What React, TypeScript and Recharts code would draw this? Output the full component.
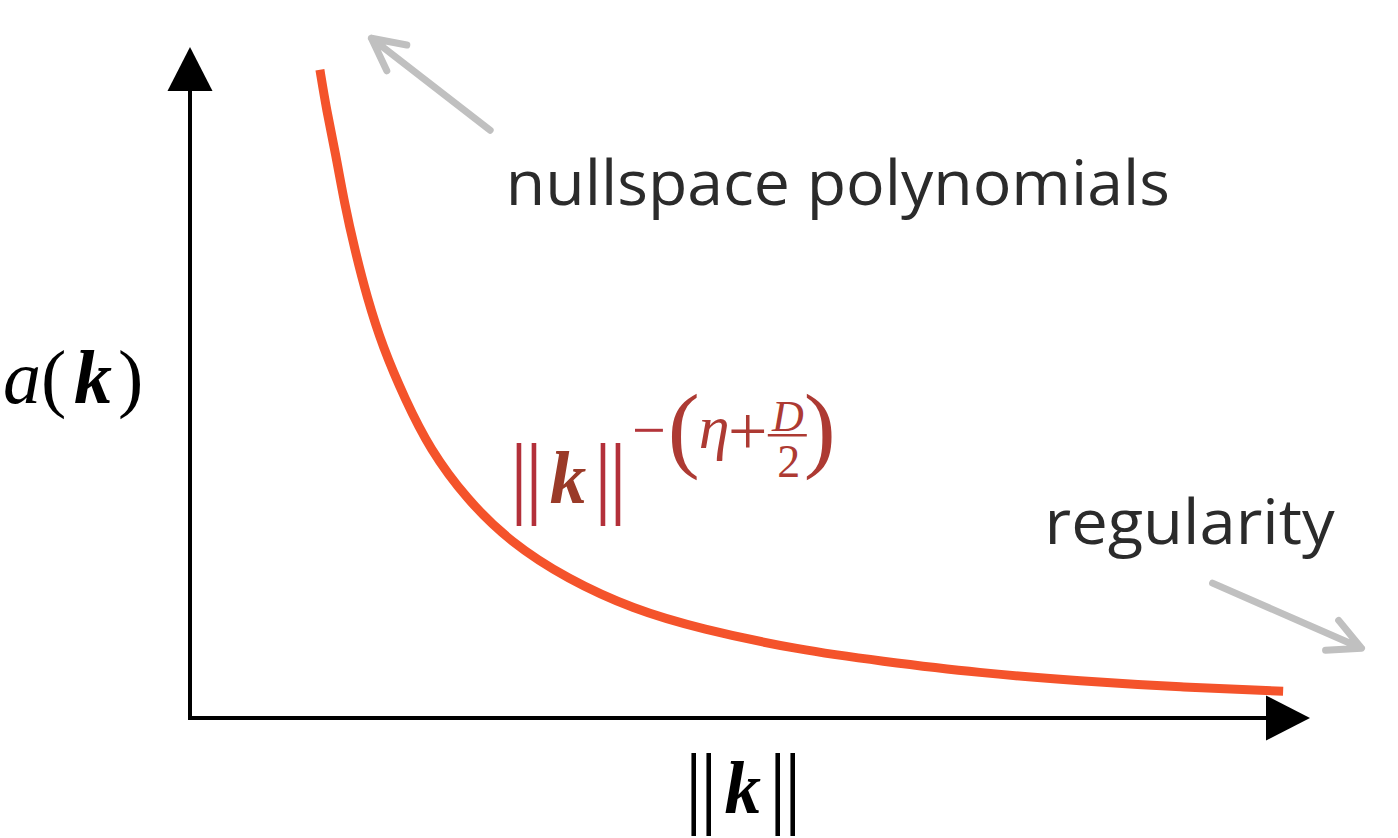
import React from 'react';
import { LineChart, Line, XAxis, YAxis, ReferenceLine, ReferenceDot } from 'recharts';

// ‖k‖ values along the curve and the matching a(k) values
const kNorm = [1.16, 1.22, 1.30, 1.38, 1.47, 1.58, 1.72, 1.92, 2.14, 2.47, 2.86, 3.37, 3.96, 4.55, 5.45, 6.16, 7.05, 7.95, 8.84, 9.76];
const aValue = [9.66, 9.05, 8.41, 7.66, 6.99, 6.27, 5.53, 4.75, 4.01, 3.26, 2.62, 2.07, 1.62, 1.33, 1.01, 0.85, 0.67, 0.55, 0.46, 0.40];

const xDomain = [0, 10];
const yDomain = [0, 10];

// axis arrows (data coordinates)
const xAxisSegment = [{ x: 0, y: 0 }, { x: 10, y: 0 }];
const yAxisSegment = [{ x: 0, y: 0 }, { x: 0, y: 10 }];

// annotation arrows (tail -> tip)
const nullspaceArrow = [{ x: 2.68, y: 8.76 }, { x: 1.62, y: 10.13 }];
const regularityArrow = [{ x: 9.13, y: 2.01 }, { x: 10.46, y: 1.04 }];

// annotation anchors
const nullspaceLabel = { x: 2.82, y: 7.65, text: 'nullspace polynomials' };
const regularityLabel = { x: 7.63, y: 2.59, text: 'regularity' };
const formulaAnchor = { x: 2.90, y: 3.20 };
const yLabelAnchor = { x: -1.67, y: 4.69 };
const xLabelAnchor = { x: 4.46, y: -1.416 };

const curveData = kNorm.map((x, i) => ({ x, y: aValue[i] }));

const SERIF = "'Liberation Serif', 'DejaVu Serif', serif";
const SANS = "'Open Sans', Lato, sans-serif";
const CURVE = '#F4532B';
const GRAY = '#C0C0C0';
const TEXT = '#2b2b2b';

const filledArrow = (props: any) => {
  const { x1, y1, x2, y2 } = props;
  const dx = x2 - x1, dy = y2 - y1;
  const len = Math.hypot(dx, dy);
  const ux = dx / len, uy = dy / len;
  const headLen = 44, half = 22.5;
  const bx = x2 - ux * headLen, by = y2 - uy * headLen;
  const px = -uy, py = ux;
  return (
    <g>
      <line x1={x1 - ux * 2} y1={y1 - uy * 2} x2={bx + ux} y2={by + uy} stroke="#000" strokeWidth={4} />
      <polygon
        points={`${x2},${y2} ${bx + px * half},${by + py * half} ${bx - px * half},${by - py * half}`}
        fill="#000"
      />
    </g>
  );
};

const openArrow = (props: any) => {
  const { x1, y1, x2, y2 } = props;
  const dx = x2 - x1, dy = y2 - y1;
  const len = Math.hypot(dx, dy);
  const bx = -dx / len, by = -dy / len;
  const wing = 36, ang = (27 * Math.PI) / 180;
  const rot = (a: number) => ({
    x: x2 + wing * (bx * Math.cos(a) - by * Math.sin(a)),
    y: y2 + wing * (bx * Math.sin(a) + by * Math.cos(a)),
  });
  const w1 = rot(ang), w2 = rot(-ang);
  return (
    <path
      d={`M${x1},${y1} L${x2},${y2} M${w1.x},${w1.y} L${x2},${y2} L${w2.x},${w2.y}`}
      fill="none"
      stroke={GRAY}
      strokeWidth={7}
      strokeLinecap="round"
      strokeLinejoin="round"
    />
  );
};

function NormK({ x, y, barColor, kColor }: { x: number; y: number; barColor: string; kColor: string }) {
  const by = y + 4;
  return (
    <text fontFamily={SERIF} fill={barColor}>
      <tspan x={x + 10} y={by} fontSize={92} textAnchor="middle" letterSpacing={-3.4}>||</tspan>
      <tspan x={x + 35} y={y} fontSize={73} fontStyle="italic" fontWeight="bold" fill={kColor}>k</tspan>
      <tspan x={x + 94} y={by} fontSize={92} textAnchor="middle" letterSpacing={-3.4}>||</tspan>
    </text>
  );
}

const sansLabel = (text: string, width: number) => (props: any) => (
  <text x={props.cx} y={props.cy} fontFamily={SANS} fontSize={62} fill={TEXT} textLength={width} lengthAdjust="spacingAndGlyphs">
    {text}
  </text>
);

const formulaShape = (props: any) => {
  const cx = props.cx, cy = props.cy;
  const sup = '#AD3A33';
  return (
    <g>
      <NormK x={cx} y={cy} barColor="#B3303A" kColor="#9A3A28" />
      <text fontFamily={SERIF} fill={sup}>
        <tspan x={cx + 134} y={cy - 53} fontSize={60} textAnchor="middle" fill="#B3353A">−</tspan>
        <tspan x={cx + 169} y={cy - 43} fontSize={96} textAnchor="middle">(</tspan>
        <tspan x={cx + 184} y={cy - 55} fontSize={62} fontStyle="italic">η</tspan>
        <tspan x={cx + 233} y={cy - 48} fontSize={70} textAnchor="middle">+</tspan>
        <tspan x={cx + 305} y={cy - 43} fontSize={96} textAnchor="middle">)</tspan>
      </text>
      <text x={cx + 273} y={cy - 72} textAnchor="middle" fontFamily={SERIF} fontStyle="italic" fontSize={44} fill={sup}>D</text>
      <line x1={cx + 253} y1={cy - 68} x2={cx + 292} y2={cy - 68} stroke={sup} strokeWidth={2.5} />
      <text x={cx + 274} y={cy - 26} textAnchor="middle" fontFamily={SERIF} fontSize={46} fill={sup}>2</text>
    </g>
  );
};

const yLabelShape = (props: any) => {
  const cx = props.cx, cy = props.cy;
  return (
    <text y={cy} fontFamily={SERIF} fontSize={76} fill="#000">
      <tspan x={cx} fontStyle="italic">a</tspan>
      <tspan x={cx + 38}>(</tspan>
      <tspan x={cx + 71} fontStyle="italic" fontWeight="bold">k</tspan>
      <tspan x={cx + 115}>)</tspan>
    </text>
  );
};

const xLabelShape = (props: any) => <NormK x={props.cx} y={props.cy} barColor="#000" kColor="#000" />;

export default function App() {
  return (
    <div style={{ position: 'absolute', left: 0, top: 0, width: 1398, height: 838, background: '#fff' }}>
      <LineChart
        width={1398}
        height={838}
        data={curveData}
        margin={{ top: 47, right: 88, bottom: 120, left: 190 }}
      >
        <XAxis type="number" dataKey="x" domain={xDomain} hide allowDataOverflow />
        <YAxis type="number" dataKey="y" domain={yDomain} hide allowDataOverflow />
        <ReferenceLine segment={xAxisSegment} shape={filledArrow} ifOverflow="visible" />
        <ReferenceLine segment={yAxisSegment} shape={filledArrow} ifOverflow="visible" />
        <Line
          type="basis"
          dataKey="y"
          stroke={CURVE}
          strokeWidth={9}
          dot={false}
          activeDot={false}
          isAnimationActive={false}
        />
        <ReferenceLine segment={nullspaceArrow} shape={openArrow} ifOverflow="visible" />
        <ReferenceLine segment={regularityArrow} shape={openArrow} ifOverflow="visible" />
        <ReferenceDot x={nullspaceLabel.x} y={nullspaceLabel.y} ifOverflow="visible" shape={sansLabel(nullspaceLabel.text, 664)} />
        <ReferenceDot x={regularityLabel.x} y={regularityLabel.y} ifOverflow="visible" shape={sansLabel(regularityLabel.text, 290)} />
        <ReferenceDot x={formulaAnchor.x} y={formulaAnchor.y} ifOverflow="visible" shape={formulaShape} />
        <ReferenceDot x={yLabelAnchor.x} y={yLabelAnchor.y} ifOverflow="visible" shape={yLabelShape} />
        <ReferenceDot x={xLabelAnchor.x} y={xLabelAnchor.y} ifOverflow="visible" shape={xLabelShape} />
      </LineChart>
    </div>
  );
}
